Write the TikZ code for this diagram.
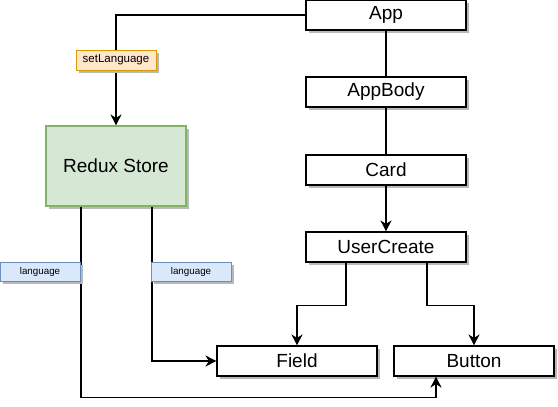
\documentclass[tikz,border=0pt]{standalone}
\usepackage{fontspec}
\setmainfont{Liberation Sans}
\usetikzlibrary{shadows,arrows.meta}
\definecolor{shadowgray}{HTML}{B8B8B8}
\definecolor{storefill}{HTML}{D5E8D4}
\definecolor{storeline}{HTML}{82B366}
\definecolor{actfill}{HTML}{FFE6CC}
\definecolor{actline}{HTML}{D79B00}
\definecolor{propfill}{HTML}{DAE8FC}
\definecolor{propline}{HTML}{6C8EBF}
\begin{document}
\begin{tikzpicture}[x=1pt,y=-1pt,
  shad/.style={drop shadow={shadow xshift=3pt,shadow yshift=-3pt,fill=shadowgray,opacity=1}},
  comp/.style={shad,draw=black,line width=1.1pt,fill=white,minimum width=160pt,minimum height=30pt,inner sep=0pt,font=\fontsize{19}{21}\selectfont},
  store/.style={shad,draw=storeline,line width=1.1pt,fill=storefill,minimum width=140pt,minimum height=80pt,inner sep=0pt,font=\fontsize{19}{21}\selectfont},
  actlbl/.style={shad,draw=actline,line width=1pt,fill=actfill,minimum width=80pt,minimum height=20pt,inner sep=0pt,font=\fontsize{11.5}{13}\selectfont},
  proplbl/.style={shad,draw=propline,line width=1pt,fill=propfill,minimum width=80pt,minimum height=19pt,inner sep=0pt,font=\fontsize{9.8}{11}\selectfont},
  link/.style={draw=black,line width=1.5pt},
  conn/.style={link,-{Stealth[length=11pt,width=11pt,inset=3.5pt]}}
]
\useasboundingbox (0,0) rectangle (558,407);
\node[comp] (app) at (386,15) {App};
\node[comp] (appbody) at (386,92) {AppBody};
\node[comp] (card) at (386,170) {Card};
\node[comp] (uc) at (386,247) {UserCreate};
\node[comp] (field) at (297,361) {Field};
\node[comp] (button) at (474,361) {Button};
\node[store] (redux) at (116,166) {Redux Store};

\draw[conn] (app.west) -| (redux.north);
\draw[link] (app) -- (appbody);
\draw[link] (appbody) -- (card);
\draw[conn] (card) -- (uc);
\draw[conn] ([xshift=-40pt]uc.south) -- ++(0,43) -| (field.north);
\draw[conn] ([xshift=41pt]uc.south) -- ++(0,43) -| (button.north);
\draw[conn] ([xshift=36pt]redux.south) |- (field.west);
\draw[conn] ([xshift=-35pt]redux.south) -- ++(0,191) -| ([xshift=-38pt]button.south);

\node[actlbl] (setlang) at (116,60) {setLanguage};
\node[proplbl] (lang1) at (40,271.5) {language};
\node[proplbl] (lang2) at (191,271.5) {language};
\end{tikzpicture}
\end{document}
